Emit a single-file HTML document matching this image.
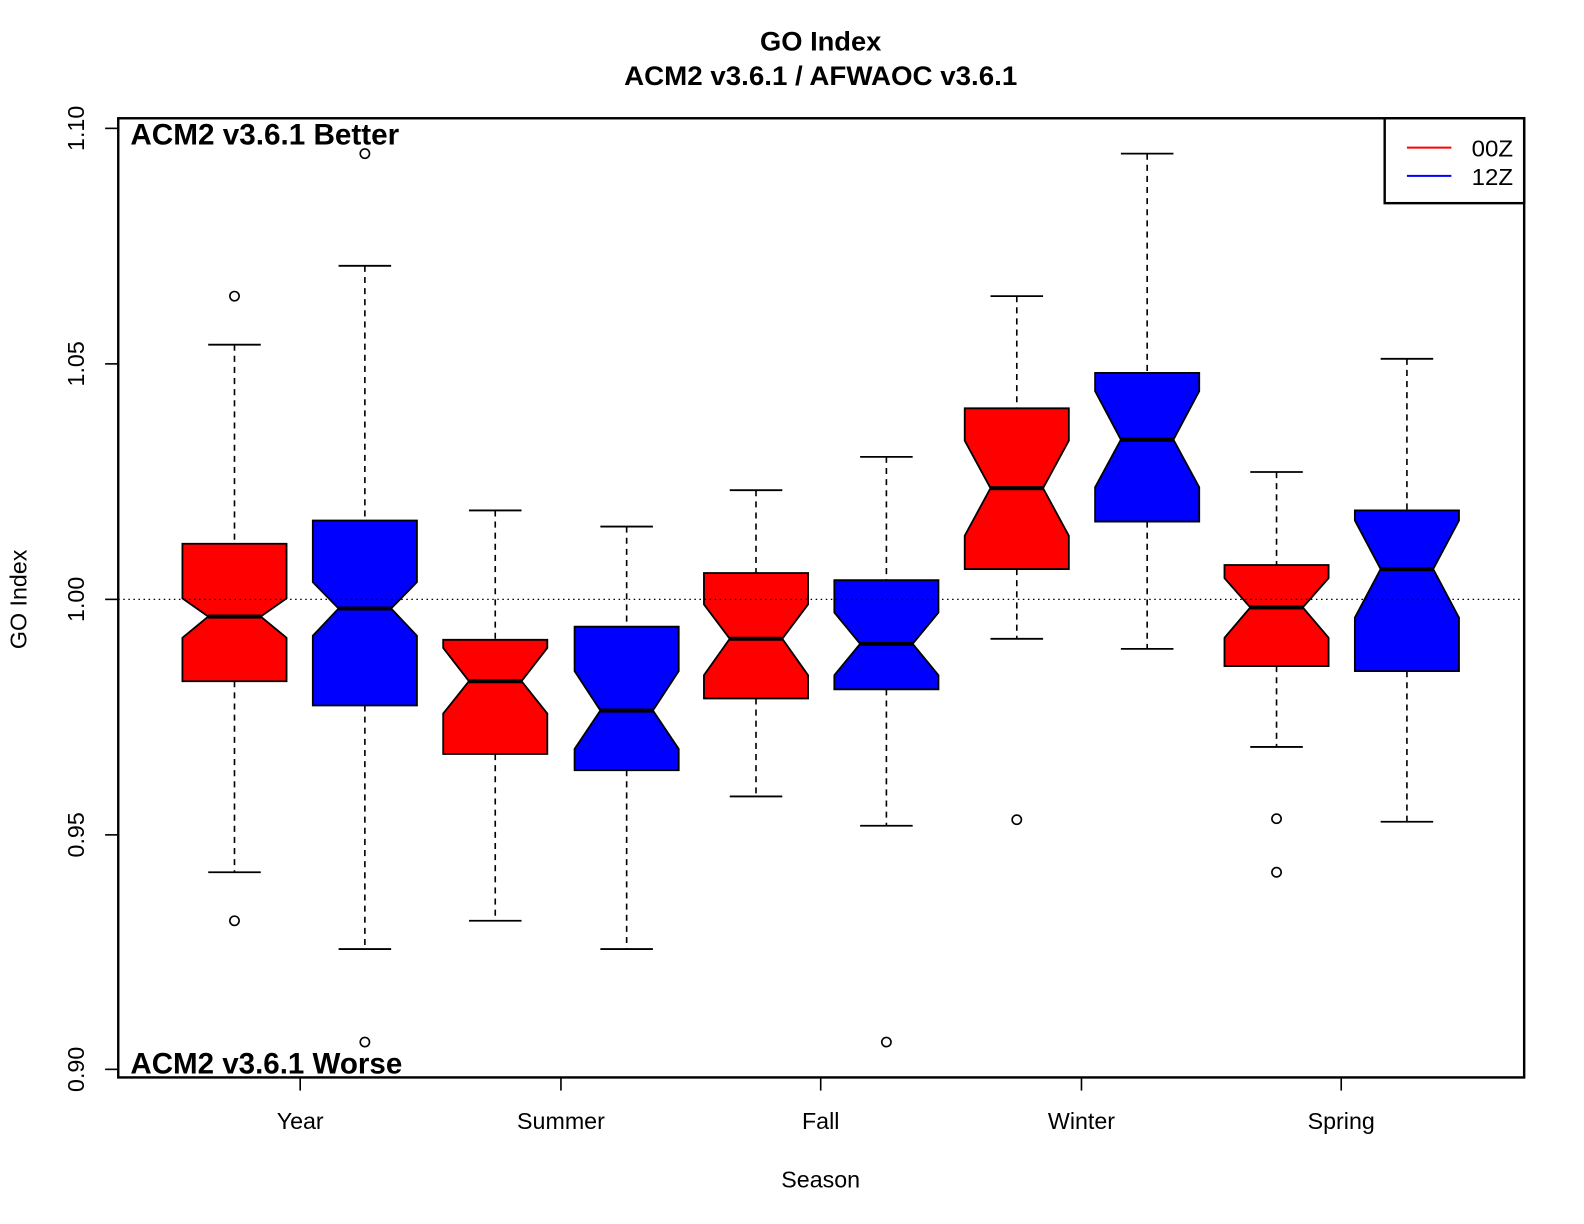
<!DOCTYPE html>
<html><head><meta charset="utf-8"><style>
html,body{margin:0;padding:0;background:#fff;}
svg{display:block;}
text{font-family:"Liberation Sans",sans-serif;fill:#000;}
</style></head><body>
<svg id="s" width="1584" height="1224" viewBox="0 0 1567.2 1211" xmlns="http://www.w3.org/2000/svg">
<rect x="0" y="0" width="1567.2" height="1211" fill="#fff"/>
<g id="boxes"></g>
<line x1="117" y1="593" x2="1508" y2="593" stroke="#000" stroke-width="1.2" stroke-dasharray="1.5,3.5"/>
<rect x="117" y="117" width="1391" height="949" fill="none" stroke="#000" stroke-width="2.4"/>
<rect x="1370" y="117" width="138" height="84" fill="#fff" stroke="#000" stroke-width="2.4"/>
<line x1="1392" y1="146" x2="1436" y2="146" stroke="#f00" stroke-width="2"/>
<line x1="1392" y1="174" x2="1436" y2="174" stroke="#00f" stroke-width="2"/>
<text x="1456" y="155" font-size="23" textLength="41" lengthAdjust="spacingAndGlyphs">00Z</text>
<text x="1456" y="183" font-size="23" textLength="41" lengthAdjust="spacingAndGlyphs">12Z</text>
<text x="812" y="50" font-size="27" font-weight="bold" text-anchor="middle" textLength="120" lengthAdjust="spacingAndGlyphs">GO Index</text>
<text x="812" y="84" font-size="27" font-weight="bold" text-anchor="middle" textLength="389" lengthAdjust="spacingAndGlyphs">ACM2 v3.6.1 / AFWAOC v3.6.1</text>
<text x="129" y="143" font-size="29" font-weight="bold" textLength="266" lengthAdjust="spacingAndGlyphs">ACM2 v3.6.1 Better</text>
<text x="129" y="1062" font-size="29" font-weight="bold" textLength="269" lengthAdjust="spacingAndGlyphs">ACM2 v3.6.1 Worse</text>
<g stroke="#000" stroke-width="1.6">
<line x1="297" y1="1066" x2="297" y2="1079"/><line x1="555" y1="1066" x2="555" y2="1079"/>
<line x1="812" y1="1066" x2="812" y2="1079"/><line x1="1070" y1="1066" x2="1070" y2="1079"/>
<line x1="1327" y1="1066" x2="1327" y2="1079"/>
<line x1="104" y1="127" x2="117" y2="127"/><line x1="104" y1="360" x2="117" y2="360"/>
<line x1="104" y1="593" x2="117" y2="593"/><line x1="104" y1="826" x2="117" y2="826"/>
<line x1="104" y1="1058" x2="117" y2="1058"/>
</g>
<g font-size="23" text-anchor="middle">
<text x="297" y="1117">Year</text><text x="555" y="1117">Summer</text>
<text x="812" y="1117">Fall</text><text x="1070" y="1117">Winter</text>
<text x="1327" y="1117">Spring</text>
<text x="812" y="1175">Season</text>
<text transform="translate(83,127) rotate(-90)">1.10</text>
<text transform="translate(83,360) rotate(-90)">1.05</text>
<text transform="translate(83,593) rotate(-90)">1.00</text>
<text transform="translate(83,826) rotate(-90)">0.95</text>
<text transform="translate(83,1058) rotate(-90)">0.90</text>
<text transform="translate(26,593) rotate(-90)">GO Index</text>
</g>
</svg>
<script>
var D=[
[232,'#f00',341,538,592,610,631,674,863,[293,911]],
[361,'#00f',263,515,576,602,629,698,939,[152,1031]],
[490,'#f00',505,633,641,674,706,746,911,[]],
[620,'#00f',521,620,664,703,741,762,939,[]],
[748,'#f00',485,567,598,632,668,691,788,[]],
[877,'#00f',452,574,606,637,668,682,817,[1031]],
[1006,'#f00',293,404,436,483,530,563,632,[811]],
[1135,'#00f',152,369,387,435,482,516,642,[]],
[1263,'#f00',467,559,572,601,631,659,739,[810,863]],
[1392,'#00f',355,505,515,563,611,664,813,[]]];
var h='';
D.forEach(function(d){var c=d[0],w=51.5,n=26;
h+='<line x1="'+c+'" y1="'+d[2]+'" x2="'+c+'" y2="'+d[3]+'" stroke="#000" stroke-width="1.6" stroke-dasharray="6,5"/>';
h+='<line x1="'+c+'" y1="'+d[7]+'" x2="'+c+'" y2="'+d[8]+'" stroke="#000" stroke-width="1.6" stroke-dasharray="6,5"/>';
h+='<line x1="'+(c-n)+'" y1="'+d[2]+'" x2="'+(c+n)+'" y2="'+d[2]+'" stroke="#000" stroke-width="1.8"/>';
h+='<line x1="'+(c-n)+'" y1="'+d[8]+'" x2="'+(c+n)+'" y2="'+d[8]+'" stroke="#000" stroke-width="1.8"/>';
var p=[[c-w,d[3]],[c+w,d[3]],[c+w,d[4]],[c+n,d[5]],[c+w,d[6]],[c+w,d[7]],[c-w,d[7]],[c-w,d[6]],[c-n,d[5]],[c-w,d[4]]];
h+='<polygon points="'+p.map(function(q){return q.join(',')}).join(' ')+'" fill="'+d[1]+'" stroke="#000" stroke-width="1.8"/>';
h+='<line x1="'+(c-n)+'" y1="'+d[5]+'" x2="'+(c+n)+'" y2="'+d[5]+'" stroke="#000" stroke-width="4"/>';
d[9].forEach(function(o){h+='<circle cx="'+c+'" cy="'+o+'" r="4.6" fill="none" stroke="#000" stroke-width="1.6"/>';});
});
document.getElementById('boxes').innerHTML=h;
</script>
</body></html>
